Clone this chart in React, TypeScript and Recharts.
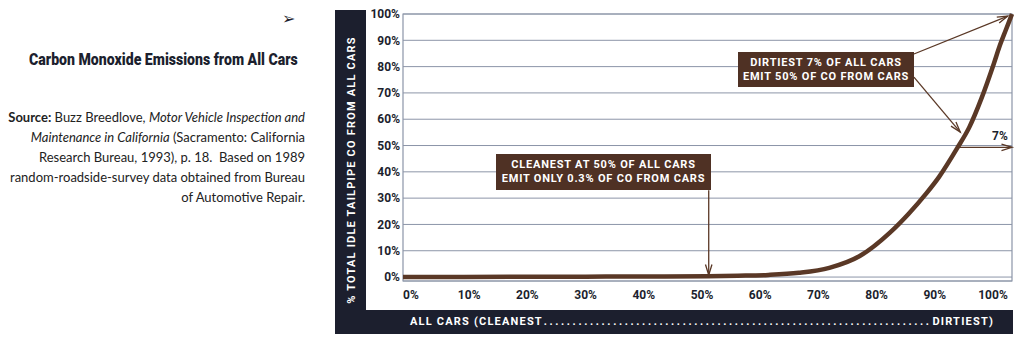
import { ComposedChart, Line, XAxis, YAxis, CartesianGrid, ReferenceLine, ReferenceArea } from 'recharts';

// share of cars (cleanest -> dirtiest) vs cumulative share of idle tailpipe CO
const carsPct = [0, 10, 20, 30, 40, 50, 55, 60, 65, 70, 75, 80, 83, 86, 88, 91, 93, 95, 97, 98, 99, 100];
const coPct = [0, 0.05, 0.1, 0.15, 0.2, 0.3, 0.5, 0.8, 1.6, 3.5, 8, 17, 24, 32, 38, 49, 57, 68, 81, 88, 94, 100];
const xTicks = [0, 10, 20, 30, 40, 50, 60, 70, 80, 90, 100];
const yTicks = [0, 10, 20, 30, 40, 50, 60, 70, 80, 90, 100];

const data = carsPct.map((c, i) => ({ cars: c, co: coPct[i] }));

const NAVY = '#1c1f2e';
const BROWN = '#5a3826';
const BOX = '#4f3124';
const GRID = '#8c95a8';
const COND = 'Roboto, sans-serif';

// thin line with an open barbed arrowhead at the end
function Arrow(props: any) {
  const { x1, y1, x2, y2 } = props;
  const ang = Math.atan2(y2 - y1, x2 - x1);
  const len = 11;
  const spread = 0.3;
  const ax = x2 - len * Math.cos(ang - spread);
  const ay = y2 - len * Math.sin(ang - spread);
  const bx = x2 - len * Math.cos(ang + spread);
  const by = y2 - len * Math.sin(ang + spread);
  return (
    <g>
      <line x1={x1} y1={y1} x2={x2} y2={y2} stroke={BROWN} strokeWidth={1.3} />
      <polyline points={`${ax},${ay} ${x2},${y2} ${bx},${by}`} fill="none" stroke={BROWN} strokeWidth={1.3} />
    </g>
  );
}

function XTick(props: any) {
  const { x, y, payload } = props;
  const v = payload.value;
  return (
    <text x={x + 8 - 0.27 * v} y={y + 10} textAnchor="middle" fill={NAVY} fontFamily={COND} fontWeight={700} fontSize={12}>
      {v}%
    </text>
  );
}

const boxText: React.CSSProperties = {
  position: 'absolute',
  background: BOX,
  color: '#fff',
  fontFamily: COND,
  fontWeight: 700,
  fontSize: 11,
  letterSpacing: 0.8,
  lineHeight: '14px',
  textAlign: 'center',
  whiteSpace: 'nowrap',
  display: 'flex',
  flexDirection: 'column',
  justifyContent: 'center',
};

export default function App() {
  return (
    <div style={{ position: 'absolute', left: 0, top: 0, width: 1024, height: 356, background: '#fff', overflow: 'hidden' }}>
      <div style={{ position: 'absolute', left: 282, top: 9, fontSize: 16, color: NAVY, fontFamily: 'DejaVu Sans' }}>➢</div>
      <div
        style={{
          position: 'absolute', right: 1024 - 298, top: 49, whiteSpace: 'nowrap',
          fontFamily: COND, fontWeight: 900, fontSize: 17, color: NAVY,
          transform: 'scaleX(0.83)', transformOrigin: 'right center',
        }}
      >
        Carbon Monoxide Emissions from All Cars
      </div>
      <div
        style={{
          position: 'absolute', right: 1024 - 305, top: 107, width: 320, textAlign: 'right',
          fontFamily: 'Lato, sans-serif', fontSize: 13, lineHeight: '20px', color: '#222',
        }}
      >
        <b>Source:</b> Buzz Breedlove, <i>Motor Vehicle Inspection and</i>
        <br />
        <i>Maintenance in California</i> (Sacramento: California
        <br />
        Research Bureau, 1993), p. 18.&nbsp; Based on 1989
        <br />
        random-roadside-survey data obtained from Bureau
        <br />
        of Automotive Repair.
      </div>

      {/* dark axis bands */}
      <div style={{ position: 'absolute', left: 335, top: 10, width: 31, height: 324, background: NAVY }} />
      <div style={{ position: 'absolute', left: 335, top: 310, width: 678, height: 24, background: NAVY }} />
      <div
        style={{
          position: 'absolute', left: 351, top: 170, transform: 'translate(-50%, -50%) rotate(-90deg)',
          whiteSpace: 'nowrap', color: '#fff', fontFamily: COND, fontWeight: 700, fontSize: 11, letterSpacing: 1.2,
        }}
      >
        % TOTAL IDLE TAILPIPE CO FROM ALL CARS
      </div>
      <div
        style={{
          position: 'absolute', left: 410, top: 315, width: 584, display: 'flex', justifyContent: 'space-between',
          color: '#fff', fontFamily: COND, fontWeight: 700, fontSize: 11, letterSpacing: 1.2, lineHeight: '14px',
          whiteSpace: 'nowrap',
        }}
      >
        <span>ALL CARS (CLEANEST</span>
        <span style={{ letterSpacing: 2.6 }}>{'.'.repeat(67)}</span>
        <span>DIRTIEST)</span>
      </div>

      <div style={{ position: 'absolute', left: 0, top: 0 }}>
        <ComposedChart width={1024} height={356} data={data} margin={{ top: 14, right: 12, bottom: 45, left: 363 }}>
          <CartesianGrid horizontal vertical={false} stroke={GRID} strokeWidth={1} />
          <ReferenceArea x1={0} x2={100} y1={-1.5} y2={100} fill="none" stroke={GRID} strokeWidth={1.2} ifOverflow="visible" />
          <XAxis
            type="number"
            dataKey="cars"
            domain={[0, 100]}
            ticks={xTicks}
            axisLine={false}
            tickLine={false}
            height={30}
            tick={<XTick />}
            interval={0}
          />
          <YAxis
            type="number"
            domain={[-1.5, 100]}
            ticks={yTicks}
            axisLine={false}
            tickLine={false}
            width={40}
            tickSize={1}
            tickMargin={2}
            interval={0}
            tickFormatter={(v: number) => `${v}%`}
            tick={{ fill: NAVY, fontFamily: COND, fontWeight: 700, fontSize: 12 }}
          />
          <Line
            type="monotone"
            dataKey="co"
            stroke={BROWN}
            strokeWidth={4.5}
            dot={false}
            isAnimationActive={false}
          />
          <ReferenceLine segment={[{ x: 83.9, y: 84.8 }, { x: 99.3, y: 99.2 }]} shape={<Arrow />} ifOverflow="visible" />
          <ReferenceLine segment={[{ x: 83.9, y: 76 }, { x: 91.5, y: 55.1 }]} shape={<Arrow />} ifOverflow="visible" />
          <ReferenceLine segment={[{ x: 91.1, y: 49.3 }, { x: 100, y: 49.3 }]} shape={<Arrow />} ifOverflow="visible" />
          <ReferenceLine segment={[{ x: 50.2, y: 33 }, { x: 50.2, y: 0.8 }]} shape={<Arrow />} ifOverflow="visible" />
        </ComposedChart>
      </div>

      <div style={{ ...boxText, left: 738, top: 52, width: 176, height: 35 }}>
        <div>DIRTIEST 7% OF ALL CARS</div>
        <div>EMIT 50% OF CO FROM CARS</div>
      </div>
      <div style={{ ...boxText, left: 496, top: 154, width: 215, height: 36 }}>
        <div>CLEANEST AT 50% OF ALL CARS</div>
        <div>EMIT ONLY 0.3% OF CO FROM CARS</div>
      </div>
      <div style={{ position: 'absolute', left: 992, top: 129, fontFamily: COND, fontWeight: 700, fontSize: 12, color: NAVY }}>
        7%
      </div>
    </div>
  );
}
